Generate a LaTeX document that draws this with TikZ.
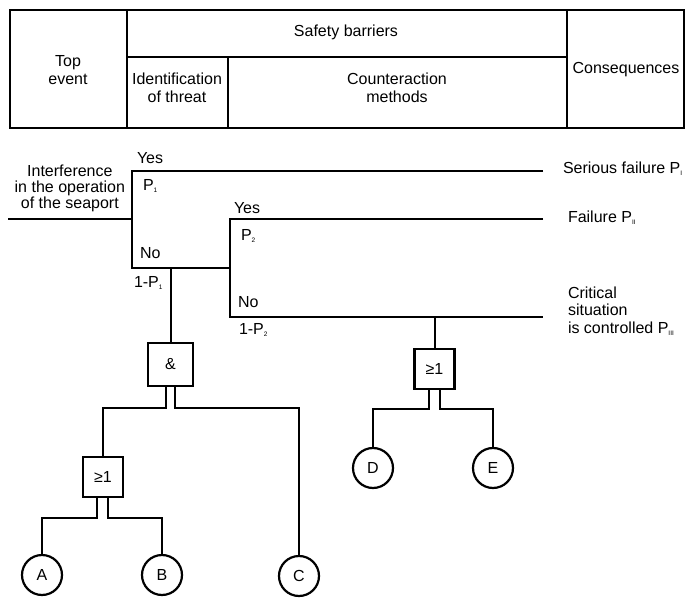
\documentclass[tikz,border=0pt]{standalone}
\usepackage{fontspec}
\setmainfont{Liberation Sans}
\usetikzlibrary{positioning,calc}
\newcommand\fs{\fontsize{16}{18}\selectfont}
\newcommand\psub[1]{P\raisebox{-2pt}{\fontsize{6.5}{6.5}\selectfont #1}}

\begin{document}
\begin{tikzpicture}[x=1pt, y=-1pt, line width=2pt,
  txt/.style={inner sep=0pt, font=\fs},
  head/.style={inner sep=0pt, font=\fs, align=center},
  gate/.style={draw, line width=2.3pt, minimum width=40pt, minimum height=40pt, inner sep=0pt, font=\fs},
  basic/.style={draw, circle, line width=2.2pt, minimum size=40pt, inner sep=0pt, font=\fs}
]
  \useasboundingbox (0,0) rectangle (686,599);

  % header table
  \draw (10,10) rectangle (684,128);
  \draw (127,10) -- (127,128);
  \draw (567,10) -- (567,128);
  \draw (127,57) -- (567,57);
  \draw (228,57) -- (228,128);
  \node[head] (top) at (68,70) {Top\\event};
  \node[head] (barriers) at (346,32) {Safety barriers};
  \node[head] (ident) at (177,88) {Identification\\of threat};
  \node[head] (counter) at (397,88) {Counteraction\\methods};
  \node[head] (conseq) at (626,70) {Consequences};

  % event tree
  \coordinate (ev) at (8,219);
  \coordinate (s1) at (132,219);
  \coordinate (y1) at (132,171);
  \coordinate (n1) at (132,268);
  \coordinate (y1e) at (543,171);
  \coordinate (s2) at (230,268);
  \coordinate (y2) at (230,219);
  \coordinate (n2) at (230,317);
  \coordinate (y2e) at (543,219);
  \coordinate (n2e) at (543,317);

  \draw (ev) -- (s1);
  \draw (y1e) -- (y1) -- (n1) -- (s2);
  \draw (y2e) -- (y2) -- (n2) -- (n2e);

  \node[head, anchor=east, font=\fontsize{16}{16}\selectfont] (evlbl) at (126,188) {Interference\\in the operation\\of the seaport};
  \node[txt, anchor=west] (yes1) at (136,158) {Yes};
  \node[txt, anchor=west] (p1) at (142,186) {\psub{1}};
  \node[txt, anchor=west] (no1) at (139,253) {No};
  \node[txt, anchor=west] (q1) at (133,283) {1-\psub{1}};
  \node[txt, anchor=west] (yes2) at (233,208) {Yes};
  \node[txt, anchor=west] (p2) at (240,236) {\psub{2}};
  \node[txt, anchor=west] (no2) at (237,302) {No};
  \node[txt, anchor=west] (q2) at (238,330) {1-\psub{2}};

  \node[txt, anchor=west] (c1) at (562,169) {Serious failure \psub{I}};
  \node[txt, anchor=west] (c2) at (567,218) {Failure \psub{II}};
  \node[txt, anchor=west, align=left, font=\fontsize{16}{17.5}\selectfont] (c3) at (567,311) {Critical\\situation\\is controlled \psub{III}};

  % gates
  \node[gate, minimum width=45pt, minimum height=43pt] (and) at (170.5,364.5) {\&};
  \node[gate] (or1) at (103,477) {≥1};
  \node[gate] (or2) at (434.5,369) {≥1};

  \node[basic] (a) at (42,575) {A};
  \node[basic] (b) at (162,575) {B};
  \node[basic] (c) at (299,576) {C};
  \node[basic] (d) at (373,468) {D};
  \node[basic] (e) at (493,468) {E};

  \draw (and.north) -- (and.north |- n1);
  \draw ($(and.south)+(-4.5,0)$) -- ++(0,21) -| (or1.north);
  \draw ($(and.south)+(4,0)$) -- ++(0,21) -| (c.north);
  \draw ($(or1.south)+(-6,0)$) -- ++(0,20) -| (a.north);
  \draw ($(or1.south)+(5,0)$) -- ++(0,20) -| (b.north);
  \draw (or2.north) -- (or2.north |- n2e);
  \draw ($(or2.south)+(-6,0)$) -- ++(0,19) -| (d.north);
  \draw ($(or2.south)+(5,0)$) -- ++(0,19) -| (e.north);
\end{tikzpicture}
\end{document}
